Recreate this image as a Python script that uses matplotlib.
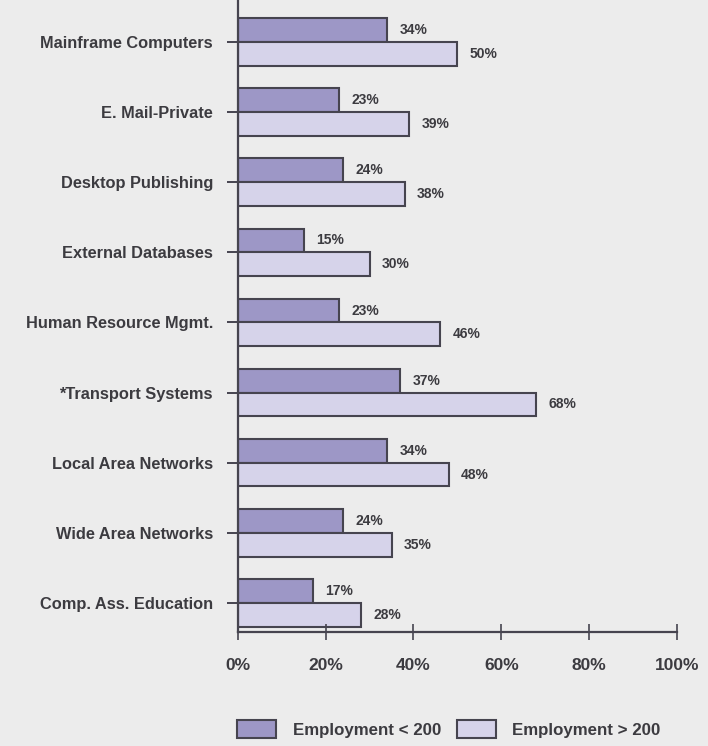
import numpy as np
import matplotlib.pyplot as plt
from matplotlib.ticker import FuncFormatter

# Share of firms using each technology, by firm size
categories = ['Mainframe Computers', 'E. Mail-Private', 'Desktop Publishing',
              'External Databases', 'Human Resource Mgmt.', '*Transport Systems',
              'Local Area Networks', 'Wide Area Networks', 'Comp. Ass. Education']
small_firms = [34, 23, 24, 15, 23, 37, 34, 24, 17]   # Employment < 200
large_firms = [50, 39, 38, 30, 46, 68, 48, 35, 28]   # Employment > 200
series_names = ['Employment < 200', 'Employment > 200']

plt.rcParams['font.family'] = ['Liberation Sans', 'DejaVu Sans']

bg = '#ececec'
dark_fill = '#9d97c6'
light_fill = '#d6d3ea'
edge = '#46444f'
ink = '#3c3b40'

fig = plt.figure(figsize=(7.08, 7.46), dpi=100, facecolor=bg)
ax = fig.add_axes([0.336, 0.153, 0.620, 0.847])
ax.set_facecolor(bg)

y = np.arange(len(categories))
h = 0.34
b1 = ax.barh(y - h / 2, small_firms, height=h, color=dark_fill,
             edgecolor=edge, linewidth=1.5, label=series_names[0])
b2 = ax.barh(y + h / 2, large_firms, height=h, color=light_fill,
             edgecolor=edge, linewidth=1.5, label=series_names[1])

for bars, vals in ((b1, small_firms), (b2, large_firms)):
    for bar, v in zip(bars, vals):
        ax.annotate(f'{v}%', (v, bar.get_y() + bar.get_height() / 2),
                    xytext=(9, 0), textcoords='offset points',
                    va='center', ha='left', fontsize=10,
                    fontweight='bold', color=ink)

ax.set_xlim(0, 100)
ax.set_ylim(8.414, -0.6)
ax.set_yticks(y)
ax.set_yticklabels(categories)
ax.set_xticks(np.arange(0, 101, 20))
ax.xaxis.set_major_formatter(FuncFormatter(lambda v, _: f'{v:.0f}%'))

for side in ('top', 'right'):
    ax.spines[side].set_visible(False)
for side in ('left', 'bottom'):
    ax.spines[side].set_color(edge)
    ax.spines[side].set_linewidth(1.6)

ax.tick_params(axis='y', length=8, width=1.4, color=edge, pad=10,
               labelsize=11.8, labelcolor=ink)
ax.tick_params(axis='x', direction='inout', length=12, width=1.2, color=edge,
               pad=13, labelsize=12.5, labelcolor=ink)
for lbl in ax.get_yticklabels() + ax.get_xticklabels():
    lbl.set_fontweight('bold')

leg = ax.legend(loc='center left', bbox_to_anchor=(-0.002, -0.1535), ncol=2,
                frameon=False, borderpad=0, borderaxespad=0,
                handlelength=2.3, handleheight=1.2,
                handletextpad=1.0, columnspacing=0.9,
                prop={'size': 12.2, 'weight': 'bold'})
for t in leg.get_texts():
    t.set_color(ink)

fig.savefig('out.png', dpi=100, facecolor=bg)
